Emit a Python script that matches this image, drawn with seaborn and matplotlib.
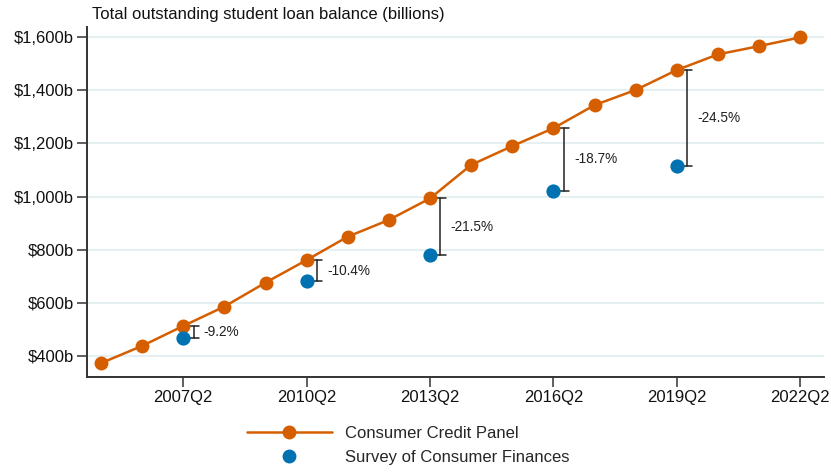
import matplotlib
matplotlib.use("Agg")
import matplotlib.pyplot as plt
from matplotlib.lines import Line2D
import seaborn as sns
import pandas as pd

# Data
ccp_years = [2005, 2006, 2007, 2008, 2009, 2010, 2011, 2012, 2013, 2014, 2015,
             2016, 2017, 2018, 2019, 2020, 2021, 2022]
ccp_values = [373, 438, 513, 586, 676, 761, 849, 912, 993, 1119, 1190,
              1257, 1344, 1401, 1476, 1535, 1566, 1599]
scf_years = [2007, 2010, 2013, 2016, 2019]
scf_values = [467, 682, 780, 1022, 1116]
gap_labels = ["-9.2%", "-10.4%", "-21.5%", "-18.7%", "-24.5%"]
x_tick_years = [2007, 2010, 2013, 2016, 2019, 2022]
x_tick_labels = ["2007Q2", "2010Q2", "2013Q2", "2016Q2", "2019Q2", "2022Q2"]
y_ticks = [400, 600, 800, 1000, 1200, 1400, 1600]
y_tick_labels = ["$400b", "$600b", "$800b", "$1,000b", "$1,200b", "$1,400b", "$1,600b"]

ccp = pd.DataFrame({"year": ccp_years, "value": ccp_values})
scf = pd.DataFrame({"year": scf_years, "value": scf_values})

sns.set_theme(style="white")
plt.rcParams["font.family"] = ["Liberation Sans", "DejaVu Sans"]

orange = "#d55e00"
blue = "#0072b2"
dark = "#333333"
fs = 12

fig = plt.figure(figsize=(8.31, 4.72), dpi=100)
ax = fig.add_axes([0.1047, 0.2013, 0.8869, 0.7415])

for yv in y_ticks:
    ax.axhline(yv, color="#e6eff1", lw=1.5, zorder=0)

sns.lineplot(data=ccp, x="year", y="value", ax=ax, color=orange, lw=1.8,
             marker="o", markersize=10, markeredgewidth=0, zorder=3)
sns.scatterplot(data=scf, x="year", y="value", ax=ax, color=blue, s=105,
                linewidth=0, zorder=4)

ccp_map = dict(zip(ccp_years, ccp_values))
for yr, sv, lab in zip(scf_years, scf_values, gap_labels):
    cv = ccp_map[yr]
    bx = yr + 0.25
    ax.plot([bx, bx], [sv, cv], color="#222222", lw=1.1, zorder=2)
    for yy in (sv, cv):
        ax.plot([bx - 0.13, bx + 0.13], [yy, yy], color="#222222", lw=1.1, zorder=2)
    ax.text(yr + 0.5, (sv + cv) / 2, lab, fontsize=9.8, va="center", ha="left",
            color="#222222")

ax.set_xlim(2004.66, 2022.58)
ax.set_ylim(321, 1638)
ax.set_xticks(x_tick_years)
ax.set_xticklabels(x_tick_labels)
ax.set_yticks(y_ticks)
ax.set_yticklabels(y_tick_labels)
ax.set_xlabel("")
ax.set_ylabel("")
ax.tick_params(axis="both", direction="out", length=7, width=1.1, color=dark,
               labelsize=fs, labelcolor="#111111", pad=2.5, bottom=True, left=True)

for side in ("top", "right"):
    ax.spines[side].set_visible(False)
for side in ("left", "bottom"):
    ax.spines[side].set_color(dark)
    ax.spines[side].set_linewidth(1.4)

fig.text(92 / 831, 1 - 14 / 472, "Total outstanding student loan balance (billions)",
         fontsize=fs, ha="left", va="center", color="#111111")

handles = [
    Line2D([0], [0], color=orange, lw=1.8, marker="o", markersize=10, markeredgewidth=0),
    Line2D([0], [0], color=blue, lw=0, marker="o", markersize=10, markeredgewidth=0),
]
fig.legend(handles, ["Consumer Credit Panel", "Survey of Consumer Finances"],
           loc="upper left", bbox_to_anchor=(240 / 831, 1 - 419 / 472),
           frameon=False, fontsize=fs, handlelength=5.1, handletextpad=0.78,
           labelspacing=0.55, borderaxespad=0)

fig.savefig("out.png", dpi=100)
